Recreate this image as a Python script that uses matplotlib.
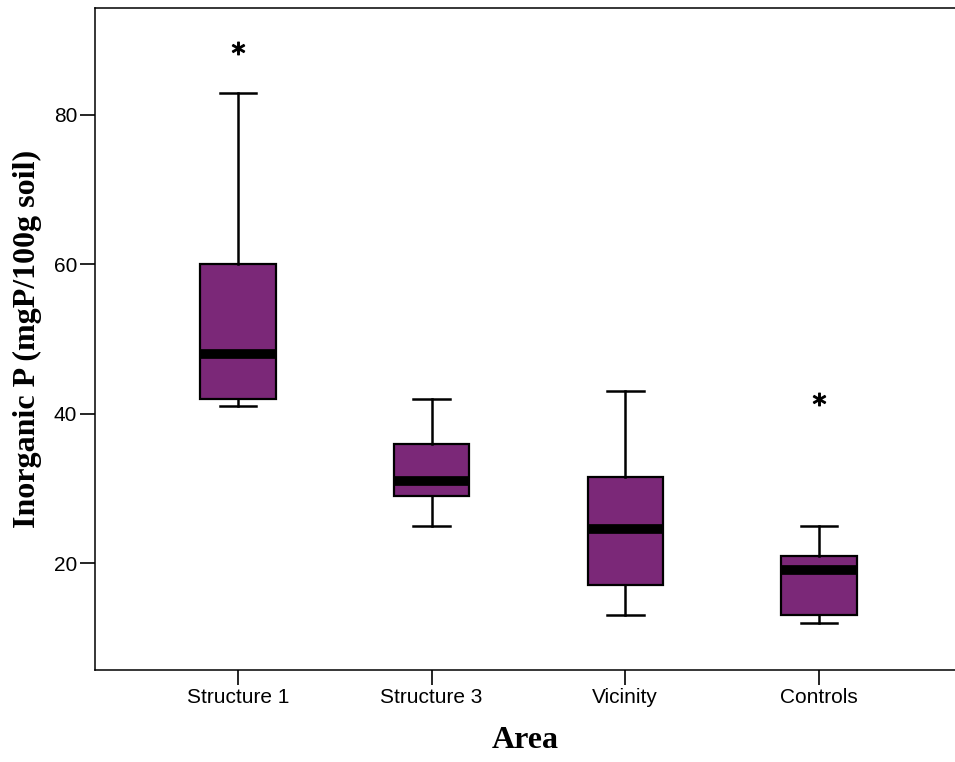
import matplotlib.pyplot as plt

# box summaries (mgP/100g soil)
areas = ["Structure 1", "Structure 3", "Vicinity", "Controls"]
q1 = [42, 29, 17, 13]
med = [48, 31, 24.5, 19]
q3 = [60, 36, 31.5, 21]
whis_lo = [41, 25, 13, 12]
whis_hi = [83, 42, 43, 25]
extremes = [[89], [], [], [42]]

purple = "#7B2878"

stats = []
for i in range(len(areas)):
    stats.append(dict(label=areas[i], q1=q1[i], med=med[i], q3=q3[i],
                      whislo=whis_lo[i], whishi=whis_hi[i], fliers=[]))

fig = plt.figure(figsize=(9.55, 7.62), dpi=100)
ax = fig.add_axes([95 / 955, 1 - 670 / 762, 1 - 95 / 955, 662 / 762])

pos = [1, 2, 3, 4]
ax.bxp(stats, positions=pos, widths=0.39, capwidths=0.19, patch_artist=True,
       showfliers=False,
       boxprops=dict(facecolor=purple, edgecolor="black", linewidth=1.6),
       whiskerprops=dict(color="black", linewidth=1.8),
       capprops=dict(color="black", linewidth=1.8),
       medianprops=dict(color="black", linewidth=7, solid_capstyle="butt"))

# extreme values drawn as asterisks
for p, vals in zip(pos, extremes):
    for v in vals:
        ax.plot(p, v, linestyle="none", marker="$*$", markersize=9, color="black")

ax.set_xlim(0.262, 4.702)
ax.set_ylim(5.67, 94.33)
ax.set_yticks([20, 40, 60, 80])
ax.set_xticks(pos)
ax.set_xticklabels(areas)

ax.spines["right"].set_visible(False)
for s in ["left", "bottom", "top"]:
    ax.spines[s].set_linewidth(1.1)

ax.tick_params(length=10.8, width=1.2, pad=2, labelsize=15)
for lab in ax.get_xticklabels() + ax.get_yticklabels():
    lab.set_family("Liberation Sans")

ax.set_ylabel("Inorganic P (mgP/100g soil)", family="Liberation Serif",
              fontweight="bold", fontsize=23)
ax.set_xlabel("Area", family="Liberation Serif", fontweight="bold", fontsize=23)
ax.yaxis.set_label_coords(-0.062, 0.5)
ax.xaxis.set_label_coords(0.5, -0.085)

fig.savefig("out.png", dpi=100)
